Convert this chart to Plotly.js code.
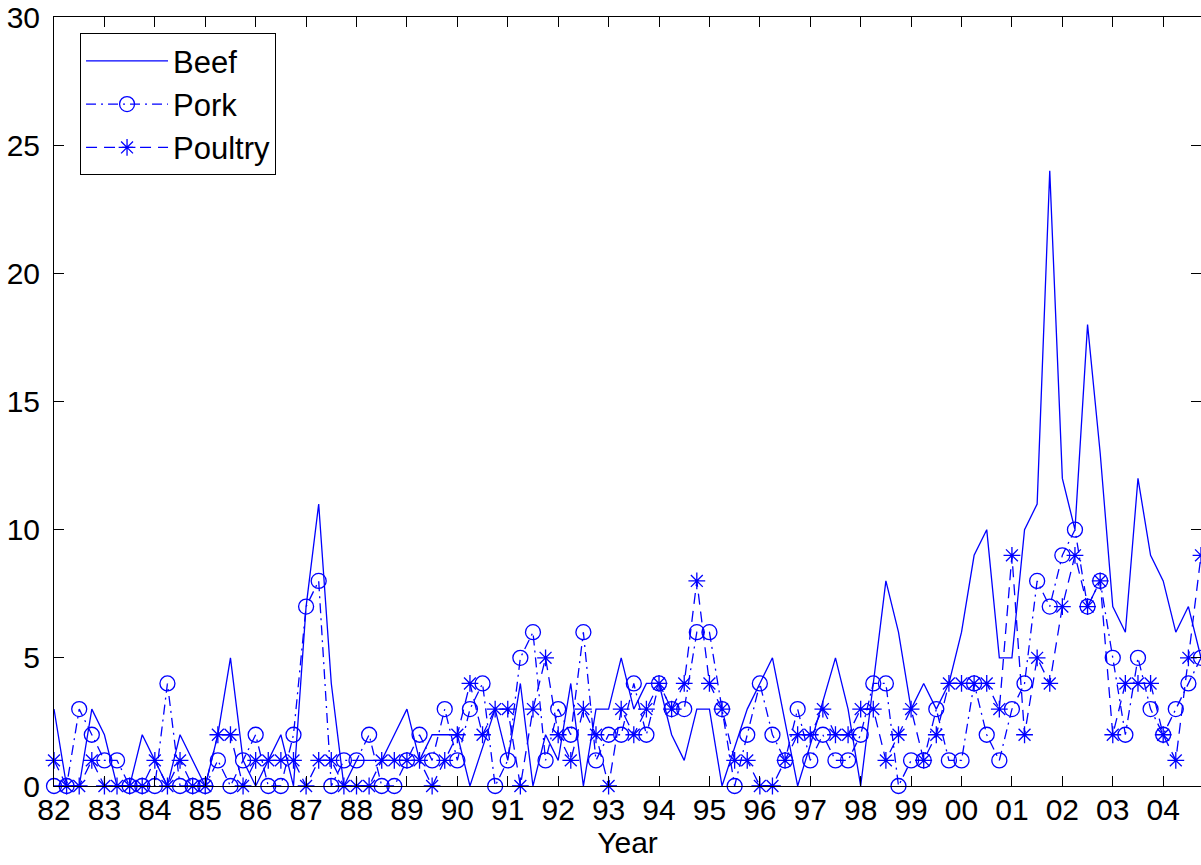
<!DOCTYPE html>
<html>
<head>
<meta charset="utf-8">
<script src="https://cdn.plot.ly/plotly-3.0.1.min.js"></script>
<style>html,body{margin:0;padding:0;background:#fff;}</style>
</head>
<body>
<div id="chart" style="width:1201px;height:865px;"></div>
<script>
// Quarter positions (year + quarter fraction)
const quarters = [
  1982, 1982.25, 1982.5, 1982.75, 1983, 1983.25, 1983.5, 1983.75,
  1984, 1984.25, 1984.5, 1984.75, 1985, 1985.25, 1985.5, 1985.75,
  1986, 1986.25, 1986.5, 1986.75, 1987, 1987.25, 1987.5, 1987.75,
  1988, 1988.25, 1988.5, 1988.75, 1989, 1989.25, 1989.5, 1989.75,
  1990, 1990.25, 1990.5, 1990.75, 1991, 1991.25, 1991.5, 1991.75,
  1992, 1992.25, 1992.5, 1992.75, 1993, 1993.25, 1993.5, 1993.75,
  1994, 1994.25, 1994.5, 1994.75, 1995, 1995.25, 1995.5, 1995.75,
  1996, 1996.25, 1996.5, 1996.75, 1997, 1997.25, 1997.5, 1997.75,
  1998, 1998.25, 1998.5, 1998.75, 1999, 1999.25, 1999.5, 1999.75,
  2000, 2000.25, 2000.5, 2000.75, 2001, 2001.25, 2001.5, 2001.75,
  2002, 2002.25, 2002.5, 2002.75, 2003, 2003.25, 2003.5, 2003.75,
  2004, 2004.25, 2004.5, 2004.75
];

const beef = [
  3, 0, 0, 3, 2, 0, 0, 2,
  1, 0, 2, 1, 0, 2, 5, 1,
  0, 1, 2, 0, 7, 11, 4, 0,
  1, 1, 1, 2, 3, 1, 2, 2,
  2, 0, 1.5, 3, 1, 4, 0, 2,
  1, 4, 0, 3, 3, 5, 3, 4,
  4, 2, 1, 3, 3, 0, 1.5, 3,
  4, 5, 2.5, 0, 1.6, 3.3, 5, 3,
  0, 4, 8, 6, 3, 4, 3, 4,
  6, 9, 10, 5, 5, 10, 11, 24,
  12, 10, 18, 13, 7, 6, 12, 9,
  8, 6, 7, 5
];

const pork = [
  0, 0, 3, 2, 1, 1, 0, 0,
  0, 4, 0, 0, 0, 1, 0, 1,
  2, 0, 0, 2, 7, 8, 0, 1,
  1, 2, 0, 0, 1, 2, 1, 3,
  1, 3, 4, 0, 1, 5, 6, 1,
  3, 2, 6, 1, 2, 2, 4, 2,
  4, 3, 3, 6, 6, 3, 0, 2,
  4, 2, 1, 3, 1, 2, 1, 1,
  2, 4, 4, 0, 1, 1, 3, 1,
  1, 4, 2, 1, 3, 4, 8, 7,
  9, 10, 7, 8, 5, 2, 5, 3,
  2, 3, 4, 5
];

const poultry = [
  1, 0, 0, 1, 0, 0, 0, 0,
  1, 0, 1, 0, 0, 2, 2, 0,
  1, 1, 1, 1, 0, 1, 1, 0,
  0, 0, 1, 1, 1, 1, 0, 1,
  2, 4, 2, 3, 3, 0, 3, 5,
  2, 1, 3, 2, 0, 3, 2, 3,
  4, 3, 4, 8, 4, 3, 1, 1,
  0, 0, 1, 2, 2, 3, 2, 2,
  3, 3, 1, 2, 3, 1, 2, 4,
  4, 4, 4, 3, 9, 2, 5, 4,
  7, 9, 7, 8, 2, 4, 4, 4,
  2, 1, 5, 9
];

const yearTicks = [1982, 1983, 1984, 1985, 1986, 1987, 1988, 1989, 1990, 1991, 1992,
                   1993, 1994, 1995, 1996, 1997, 1998, 1999, 2000, 2001, 2002, 2003, 2004];
const yearLabels = ['82', '83', '84', '85', '86', '87', '88', '89', '90', '91', '92',
                    '93', '94', '95', '96', '97', '98', '99', '00', '01', '02', '03', '04'];
const yTicks = [0, 5, 10, 15, 20, 25, 30];

const BLUE = '#0000ff';
const FONT = 'Liberation Sans, Arial, Helvetica, sans-serif';

const traces = [
  {
    x: quarters, y: beef, name: 'Beef', type: 'scatter', mode: 'lines',
    line: {color: BLUE, width: 1.3}
  },
  {
    x: quarters, y: pork, name: 'Pork', type: 'scatter', mode: 'lines+markers',
    line: {color: BLUE, width: 1.3, dash: '10px,5px,2px,5px'},
    marker: {symbol: 'circle-open', size: 15, color: BLUE, line: {color: BLUE, width: 1.3}},
    cliponaxis: false
  },
  {
    x: quarters, y: poultry, name: 'Poultry', type: 'scatter', mode: 'lines+markers',
    line: {color: BLUE, width: 1.3, dash: '11px,7px'},
    marker: {symbol: 'asterisk-open', size: 14, color: BLUE, line: {color: BLUE, width: 1.3}},
    cliponaxis: false
  }
];

const layout = {
  width: 1201, height: 865,
  margin: {l: 54, r: 0, t: 17, b: 79},
  paper_bgcolor: '#ffffff', plot_bgcolor: '#ffffff',
  font: {family: FONT, size: 30, color: '#000000'},
  showlegend: true,
  legend: {
    x: 0.0227, xanchor: 'left', y: 0.979, yanchor: 'top',
    bgcolor: '#ffffff', bordercolor: '#000000', borderwidth: 1,
    font: {family: FONT, size: 31, color: '#000000'},
    itemwidth: 82
  },
  xaxis: {
    range: [1982, 2004.75],
    tickmode: 'array', tickvals: yearTicks, ticktext: yearLabels,
    ticks: 'inside', ticklen: 10, tickwidth: 1, tickcolor: '#000000',
    showline: true, linecolor: '#000000', linewidth: 1, mirror: 'ticks',
    showgrid: false, zeroline: false,
    tickfont: {family: FONT, size: 30, color: '#000000'},
    ticklabelstandoff: -3,
    title: {text: 'Year', font: {family: FONT, size: 30, color: '#000000'}, standoff: 0}
  },
  yaxis: {
    range: [0, 30],
    tickmode: 'array', tickvals: yTicks,
    ticks: 'inside', ticklen: 10, tickwidth: 1, tickcolor: '#000000',
    showline: true, linecolor: '#000000', linewidth: 1, mirror: 'ticks',
    showgrid: false, zeroline: false,
    tickfont: {family: FONT, size: 30, color: '#000000'},
    ticklabelstandoff: 7
  }
};

Plotly.newPlot('chart', traces, layout, {displayModeBar: false, staticPlot: true});
</script>
</body>
</html>
